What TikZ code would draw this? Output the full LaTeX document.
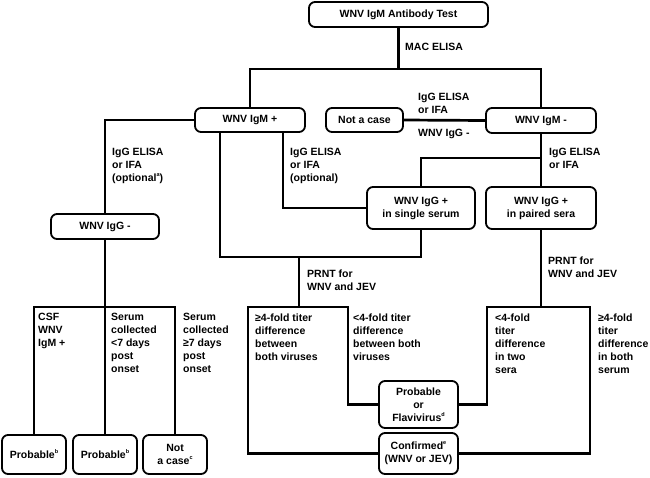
\documentclass[tikz,border=0pt]{standalone}
\usepackage{fontspec}
\setmainfont{Liberation Sans}
\newcommand{\dfont}{\fontsize{10.5}{13}\selectfont\bfseries}
\newcommand{\fnm}[1]{\raisebox{0.9ex}{\fontsize{5.5}{6}\selectfont #1}}
\begin{document}
\begin{tikzpicture}[x=1pt,y=-1pt,
  box/.style={draw, line width=1.8pt, rounded corners=6pt, align=center, inner sep=0pt, font=\dfont},
  conn/.style={line width=2.7pt},
  lab/.style={anchor=north west, align=left, inner sep=0pt, font=\dfont}]
\useasboundingbox (0,0) rectangle (650,477);
% boxes
\node[box, minimum width=179pt, minimum height=25pt] (top) at (398.5,14.5) {WNV IgM Antibody Test};
\node[box, minimum width=110pt, minimum height=24pt] (igmp) at (250,120) {WNV IgM +};
\node[box, minimum width=77pt, minimum height=24pt] (nac) at (364.5,120) {Not a case};
\node[box, minimum width=110pt, minimum height=25pt] (igmn) at (541,120.5) {WNV IgM -};
\node[box, minimum width=108pt, minimum height=25pt] (iggn) at (105,226.5) {WNV IgG -};
\node[box, minimum width=108pt, minimum height=42pt] (single) at (421,208) {WNV IgG +\\in single serum};
\node[box, minimum width=110pt, minimum height=42pt] (paired) at (541,208) {WNV IgG +\\in paired sera};
\node[box, minimum width=64pt, minimum height=39pt] (prob1) at (34,454.5) {Probable\fnm{b}};
\node[box, minimum width=64pt, minimum height=39pt] (prob2) at (105,454.5) {Probable\fnm{b}};
\node[box, minimum width=64pt, minimum height=39pt] (nac2) at (175,454.5) {Not\\a case\fnm{c}};
\node[box, minimum width=79pt, minimum height=47pt] (probflav) at (418.5,404.5) {Probable\\or\\Flavivirus\fnm{d}};
\node[box, minimum width=79pt, minimum height=41pt] (conf) at (418.5,453.5) {Confirmed\fnm{e}\\(WNV or JEV)};
% junction coordinates
\coordinate (j0) at (398.5,69);
\coordinate (br1) at (541,158);
\coordinate (prntL) at (299,257);
\coordinate (mC) at (299,307);
\coordinate (mL) at (248,307);
\coordinate (mR) at (348,307);
\coordinate (pC) at (541,307);
\coordinate (pL) at (487,307);
\coordinate (pR) at (590,307);
\coordinate (l1) at (105,307);
% connectors
\draw[conn] (top.south) -- (j0);
\draw[conn] (igmp.north) |- (j0) -| (igmn.north);
\draw[conn] (nac.east) -- (igmn.west);
\draw[conn] (igmp.west) -| (iggn.north);
\draw[conn] ([xshift=33pt]igmp.south) |- (single.west);
\draw[conn] ([xshift=-30pt]igmp.south) |- (prntL) -| (single.south);
\draw[conn] (prntL) -- (mC);
\draw[conn] (conf.west) -| (mL) -- (mR) |- (probflav.west);
\draw[conn] (igmn.south) -- (paired.north);
\draw[conn] (br1) -| (single.north);
\draw[conn] (paired.south) -- (pC);
\draw[conn] (probflav.east) -| (pL) -- (pR) |- (conf.east);
\draw[conn] (iggn.south) -- (l1);
\draw[conn] (prob1.north) |- (l1) -| (nac2.north);
\draw[conn] (l1) -- (prob2.north);
% labels
\node[lab] (t1) at (405,43.2) {MAC ELISA};
\node[lab] (t2) at (418,93.2) {IgG ELISA\\or IFA};
\node[lab] (t3) at (418,129.2) {WNV IgG -};
\node[lab] (t4) at (112,148.2) {IgG ELISA\\or IFA\\(optional\fnm{a})};
\node[lab] (t5) at (290,148.2) {IgG ELISA\\or IFA\\(optional)};
\node[lab] (t6) at (549,148.2) {IgG ELISA\\or IFA};
\node[lab] (t7) at (307,269.2) {PRNT for\\WNV and JEV};
\node[lab] (t8) at (548,256.2) {PRNT for\\WNV and JEV};
\node[lab] (t9) at (38,313.2) {CSF\\WNV\\IgM +};
\node[lab] (t10) at (111,313.2) {Serum\\collected\\<7 days\\post\\onset};
\node[lab] (t11) at (183,313.2) {Serum\\collected\\≥7 days\\post\\onset};
\node[lab] (t12) at (255,313.2) {≥4-fold titer\\difference\\between\\both viruses};
\node[lab] (t13) at (353,313.2) {<4-fold titer\\difference\\between both\\viruses};
\node[lab] (t14) at (495,313.2) {<4-fold\\titer\\difference\\in two\\sera};
\node[lab] (t15) at (598,313.2) {≥4-fold\\titer\\difference\\in both\\serum};
\end{tikzpicture}
\end{document}
